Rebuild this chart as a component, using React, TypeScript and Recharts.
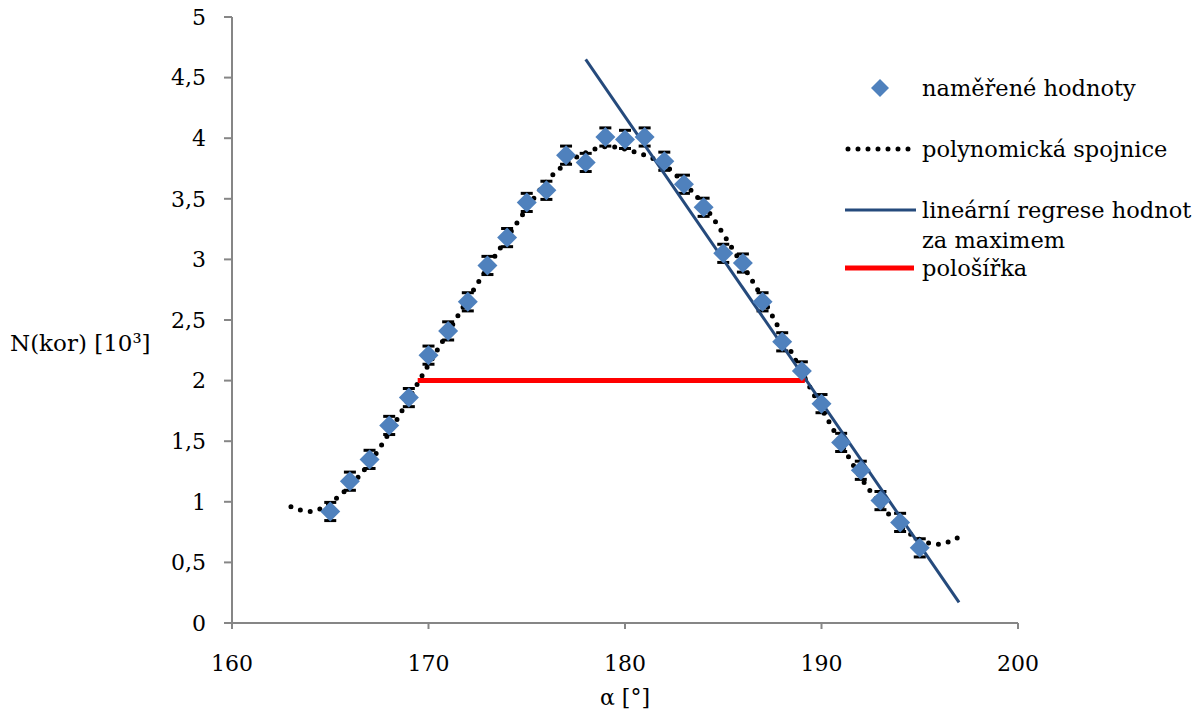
import React from "react";
import {
  ComposedChart,
  Scatter,
  Line,
  XAxis,
  YAxis,
  ErrorBar,
} from "recharts";

// measured values (angle in degrees, N(kor) in thousands)
const angles = [165, 166, 167, 168, 169, 170, 171, 172, 173, 174, 175, 176, 177, 178, 179, 180, 181, 182, 183, 184, 185, 186, 187, 188, 189, 190, 191, 192, 193, 194, 195];
const counts = [0.92, 1.17, 1.35, 1.63, 1.86, 2.21, 2.41, 2.65, 2.95, 3.18, 3.47, 3.57, 3.86, 3.80, 4.01, 3.99, 4.01, 3.81, 3.62, 3.43, 3.05, 2.97, 2.65, 2.32, 2.08, 1.81, 1.49, 1.26, 1.01, 0.83, 0.62];
const errors = [0.075, 0.075, 0.075, 0.075, 0.075, 0.075, 0.075, 0.075, 0.075, 0.075, 0.075, 0.075, 0.075, 0.075, 0.075, 0.075, 0.075, 0.075, 0.075, 0.075, 0.075, 0.075, 0.075, 0.075, 0.075, 0.075, 0.075, 0.075, 0.075, 0.075, 0.075];

// polynomial trend line
const polyX = [163, 164, 165, 166, 167, 168, 169, 170, 171, 172, 173, 174, 175, 176, 177, 178, 179, 180, 181, 182, 183, 184, 185, 186, 187, 188, 189, 190, 191, 192, 193, 194, 195, 196, 197];
const polyY = [0.96, 0.92, 0.99, 1.13, 1.32, 1.57, 1.85, 2.13, 2.40, 2.67, 2.93, 3.18, 3.42, 3.64, 3.79, 3.88, 3.93, 3.91, 3.86, 3.78, 3.63, 3.45, 3.21, 2.95, 2.68, 2.38, 2.07, 1.77, 1.48, 1.20, 0.98, 0.80, 0.69, 0.65, 0.71];

// linear regression of the values past the maximum
const regX = [178, 197];
const regY = [4.65, 0.17];

// half width at half maximum
const halfX = [169.45, 189.15];
const halfY = [2, 2];

const xTicks = [160, 170, 180, 190, 200];
const yTicks = [0, 0.5, 1, 1.5, 2, 2.5, 3, 3.5, 4, 4.5, 5];

const measured = angles.map((x, i) => ({ x, y: counts[i], err: errors[i] }));
const poly = polyX.map((x, i) => ({ x, y: polyY[i] }));
const regression = regX.map((x, i) => ({ x, y: regY[i] }));
const halfWidth = halfX.map((x, i) => ({ x, y: halfY[i] }));

const FONT = "'DejaVu Serif', serif";
const AXIS_GRAY = "#868686";
const MARKER = "#4F81BD";
const REG_BLUE = "#254A7C";
const FS = 22;

const Diamond = (props: any) => {
  const { cx, cy } = props;
  const r = 10;
  return (
    <polygon
      points={`${cx},${cy - r} ${cx + r},${cy} ${cx},${cy + r} ${cx - r},${cy}`}
      fill={MARKER}
    />
  );
};

// legend drawn as an overlay so it does not shrink the plot area
const ChartLegend = () => (
  <svg
    width={360}
    height={220}
    style={{ position: "absolute", left: 840, top: 70, fontFamily: FONT }}
  >
    <polygon points="40,9 49,18 40,27 31,18" fill={MARKER} />
    <text x={82} y={18} dominantBaseline="central" fontSize={22.5} fill="#000">
      naměřené hodnoty
    </text>
    <line x1={8} y1={79} x2={70} y2={79} stroke="#000" strokeWidth={5} strokeDasharray="0 10" strokeLinecap="round" />
    <text x={82} y={79} dominantBaseline="central" fontSize={22.5} fill="#000">
      polynomická spojnice
    </text>
    <line x1={5} y1={140} x2={76} y2={140} stroke={REG_BLUE} strokeWidth={3} />
    <text x={82} y={140} dominantBaseline="central" fontSize={22.5} fill="#000">
      lineární regrese hodnot
    </text>
    <text x={82} y={170} dominantBaseline="central" fontSize={22.5} fill="#000">
      za maximem
    </text>
    <line x1={5} y1={198} x2={74} y2={198} stroke="#FF0000" strokeWidth={5} />
    <text x={82} y={198} dominantBaseline="central" fontSize={22.5} fill="#000">
      pološířka
    </text>
  </svg>
);

const YLabel = () => (
  <text x={10} y={343} dominantBaseline="central" fontSize={23} fill="#000" fontFamily={FONT}>
    N(kor) [10³]
  </text>
);

export default function App() {
  return (
    <div style={{ position: "absolute", left: 0, top: 0, width: 1200, height: 715, background: "#fff" }}>
      <ComposedChart
        width={1200}
        height={715}
        margin={{ top: 17, right: 182, bottom: 0, left: 0 }}
        style={{ fontFamily: FONT }}
      >
        <XAxis
          dataKey="x"
          type="number"
          domain={[160, 200]}
          ticks={xTicks}
          allowDataOverflow
          height={92}
          stroke={AXIS_GRAY}
          strokeWidth={2}
          tickSize={6}
          tickMargin={26}
          tick={{ fill: "#000", fontSize: FS }}
          label={{ value: "α [°]", position: "insideBottom", offset: 10, fill: "#000", fontSize: FS }}
        />
        <YAxis
          dataKey="y"
          type="number"
          domain={[0, 5]}
          ticks={yTicks}
          width={232}
          stroke={AXIS_GRAY}
          strokeWidth={2}
          tickSize={8}
          tickMargin={18}
          tick={{ fill: "#000", fontSize: FS }}
          tickFormatter={(v: number) => String(v).replace(".", ",")}
          label={{ content: () => <YLabel /> }}
        />
        <Scatter
          name="naměřené hodnoty"
          data={measured}
          shape={<Diamond />}
          isAnimationActive={false}
        >
          <ErrorBar dataKey="err" direction="y" width={6} stroke="#000" strokeWidth={3} />
        </Scatter>
        <Line
          name="polynomická spojnice"
          data={poly}
          dataKey="y"
          type="natural"
          stroke="#000"
          strokeWidth={5}
          strokeDasharray="0 10"
          strokeLinecap="round"
          dot={false}
          activeDot={false}
          isAnimationActive={false}
        />
        <Line
          name="lineární regrese hodnot za maximem"
          data={regression}
          dataKey="y"
          type="linear"
          stroke={REG_BLUE}
          strokeWidth={3}
          dot={false}
          activeDot={false}
          isAnimationActive={false}
        />
        <Line
          name="pološířka"
          data={halfWidth}
          dataKey="y"
          type="linear"
          stroke="#FF0000"
          strokeWidth={5}
          dot={false}
          activeDot={false}
          isAnimationActive={false}
        />
      </ComposedChart>
      <ChartLegend />
    </div>
  );
}
